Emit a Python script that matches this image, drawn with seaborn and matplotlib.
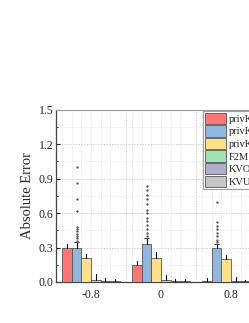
import numpy as np
import pandas as pd
import seaborn as sns
import matplotlib.pyplot as plt
from matplotlib.ticker import MultipleLocator

# values
groups = ["-0.8", "0", "0.8"]
methods = ["privKV", "privKVM", "privKVM*", "F2M", "KVOH", "KVUE"]
colors = ["#FF7676", "#92B6DE", "#FFE08A", "#9EE2B8", "#ADADD0", "#C6C6C6"]

err_values = {
    "privKV":   [0.300, 0.145, 0.012],
    "privKVM":  [0.295, 0.335, 0.295],
    "privKVM*": [0.205, 0.212, 0.200],
    "F2M":      [0.020, 0.018, 0.012],
    "KVOH":     [0.012, 0.010, 0.006],
    "KVUE":     [0.006, 0.006, 0.004],
}
err_upper = {
    "privKV":   [0.335, 0.185, 0.035],
    "privKVM":  [0.345, 0.385, 0.330],
    "privKVM*": [0.240, 0.265, 0.235],
    "F2M":      [0.070, 0.065, 0.040],
    "KVOH":     [0.035, 0.030, 0.020],
    "KVUE":     [0.030, 0.025, 0.015],
}
# outliers above the privKVM bars
outliers = [
    [0.36, 0.38, 0.40, 0.42, 0.44, 0.46, 0.48, 0.62, 0.72, 0.86, 1.00],
    [0.40, 0.43, 0.46, 0.50, 0.53, 0.56, 0.60, 0.63, 0.68, 0.72, 0.76, 0.80, 0.84],
    [0.35, 0.37, 0.40, 0.43, 0.46, 0.49, 0.52, 0.70],
]

rows = []
for m in methods:
    for g, v in zip(groups, err_values[m]):
        rows.append({"rho": g, "method": m, "error": v})
df = pd.DataFrame(rows)

sns.set_style("white")
plt.rcParams["font.family"] = ["Liberation Serif", "DejaVu Serif"]

fig = plt.figure(figsize=(2.49, 3.23), dpi=100)
ax = fig.add_axes([0.225, 0.127, 0.843, 0.533])

sns.barplot(data=df, x="rho", y="error", hue="method", hue_order=methods,
            palette=colors, saturation=1, width=0.82, errorbar=None,
            edgecolor="#555555", linewidth=0.6, ax=ax, zorder=3)

# whiskers on top of each bar
bar_edges = []
for i, m in enumerate(methods):
    cont = ax.containers[i]
    for j, bar in enumerate(cont):
        xc = bar.get_x() + bar.get_width() / 2
        bar_edges.append(bar.get_x())
        top = bar.get_height()
        ax.plot([xc, xc], [top, err_upper[m][j]], color="black", lw=0.8, zorder=4)
        if m == "privKVM":
            ax.plot([xc - 0.035, xc + 0.035], [err_upper[m][j]] * 2, color="#333333", lw=0.6, zorder=4)
            ax.scatter([xc] * len(outliers[j]), outliers[j], s=0.5, color="#555555", zorder=4)

# faint lines between neighbouring bars
for xe in bar_edges:
    ax.axvline(xe, color="#EEEEEE", lw=0.5, zorder=0)

ax.set_ylim(0, 1.5)
ax.set_xlim(-0.5, 2.5)
ax.yaxis.set_major_locator(MultipleLocator(0.3))
ax.yaxis.set_minor_locator(MultipleLocator(0.15))
ax.set_yticks([0.0, 0.3, 0.6, 0.9, 1.2, 1.5])
ax.set_yticklabels(["0.0", "0.3", "0.6", "0.9", "1.2", "1.5"])
ax.set_xticks([0.5, 1.5], minor=True)
ax.tick_params(axis="y", which="major", direction="in", length=3, labelsize=8.5, pad=2, left=True)
ax.tick_params(axis="y", which="minor", direction="in", length=1.5, left=True)
ax.tick_params(axis="x", which="major", length=0, labelsize=8.5, pad=5)
ax.tick_params(axis="x", which="minor", length=0)

ax.grid(True, axis="y", which="major", ls=(0, (2, 2)), lw=0.5, color="#BBBBBB", zorder=0)
ax.grid(True, axis="y", which="minor", ls=(0, (2, 2)), lw=0.4, color="#DDDDDD", zorder=0)
ax.grid(True, axis="x", which="minor", ls=(0, (2, 2)), lw=0.5, color="#BBBBBB", zorder=0)
ax.set_axisbelow(True)

for s in ["top", "right"]:
    ax.spines[s].set_color("#999999")
    ax.spines[s].set_linewidth(0.8)
for s in ["left", "bottom"]:
    ax.spines[s].set_color("#444444")
    ax.spines[s].set_linewidth(0.9)

ax.set_xlabel("")
ax.set_ylabel("Absolute Error", fontsize=10.5, labelpad=3)

leg = ax.legend(loc="upper left", bbox_to_anchor=(203 / 249, 212 / 323),
                bbox_transform=fig.transFigure, fontsize=7.5, frameon=True,
                fancybox=False, edgecolor="#888888", handlelength=2.1,
                handleheight=1.3, handletextpad=0.25, labelspacing=0.12,
                borderpad=0.15, borderaxespad=0)
leg.get_frame().set_linewidth(0.8)

fig.savefig("out.png", dpi=100)
